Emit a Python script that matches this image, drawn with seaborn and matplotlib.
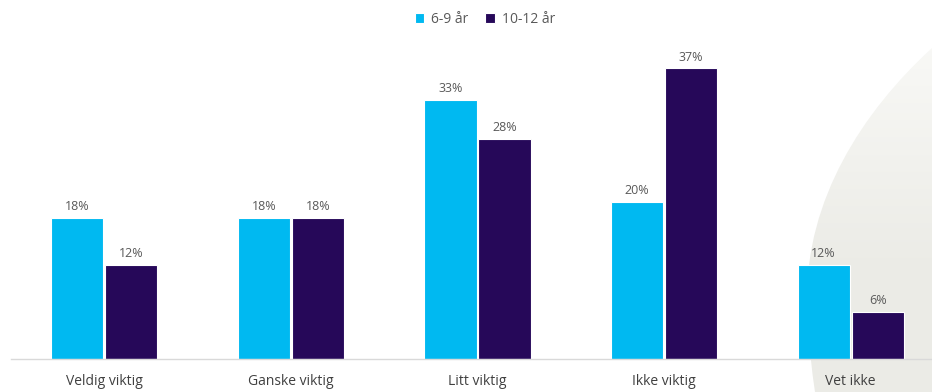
import matplotlib
matplotlib.use("Agg")
import matplotlib.pyplot as plt
from matplotlib.path import Path
from matplotlib.patches import PathPatch
import numpy as np
import seaborn as sns
import pandas as pd

categories = ["Veldig viktig", "Ganske viktig", "Litt viktig", "Ikke viktig", "Vet ikke"]
series_names = ["6-9 år", "10-12 år"]
values_6_9 = [18, 18, 33, 20, 12]
values_10_12 = [12, 18, 28, 37, 6]
colors = ["#00B9F1", "#260859"]

df = pd.DataFrame({
    "kategori": categories * 2,
    "alder": [series_names[0]] * len(categories) + [series_names[1]] * len(categories),
    "andel": values_6_9 + values_10_12,
})

sns.set_theme(style="white")
plt.rcParams["font.family"] = ["Open Sans", "DejaVu Sans"]

W, H = 932, 392
fig = plt.figure(figsize=(W / 100, H / 100), dpi=100)

# decorative background swoosh on the right, with a soft vertical gradient
bg = fig.add_axes([0, 0, 1, 1], zorder=0)
bg.set_xlim(0, W)
bg.set_ylim(H, 0)
bg.axis("off")
verts = [(932, 48), (862, 112), (806, 200), (807, 300),
         (808, 345), (812, 370), (815, 392),
         (932, 392), (932, 48)]
codes = [Path.MOVETO, Path.CURVE4, Path.CURVE4, Path.CURVE4,
         Path.CURVE4, Path.CURVE4, Path.CURVE4,
         Path.LINETO, Path.CLOSEPOLY]
swoosh = PathPatch(Path(verts, codes), facecolor="none", edgecolor="none")
bg.add_patch(swoosh)
grad = np.linspace(0, 1, 256)[:, None]
top_c = np.array([0.975, 0.975, 0.965])
bot_c = np.array([0.925, 0.925, 0.905])
img = top_c + (bot_c - top_c) * np.clip(grad * 1.6, 0, 1)[..., None]
img = np.repeat(img, 2, axis=1)
im = bg.imshow(img, extent=(790, 932, H, 40), aspect="auto", interpolation="bilinear")
im.set_clip_path(swoosh)

ax = fig.add_axes([11 / W, 1 - 359 / H, 933 / W, 329 / H], zorder=1)
ax.set_facecolor("none")

sns.barplot(data=df, x="kategori", y="andel", hue="alder", palette=colors,
            order=categories, hue_order=series_names, width=0.58, gap=0.035,
            saturation=1, edgecolor="white", linewidth=0.8, ax=ax, legend=True)

for cont in ax.containers:
    ax.bar_label(cont, labels=[f"{v:.0f}%" for v in cont.datavalues],
                 padding=3.5, fontsize=9, color="#595959")

ax.set_xlim(-0.5, 4.5)
ax.set_ylim(0, 41.9)
ax.set_xlabel("")
ax.set_ylabel("")
ax.set_yticks([])
for s in ["top", "right", "left"]:
    ax.spines[s].set_visible(False)
ax.spines["bottom"].set_color("#D9D9D9")
ax.spines["bottom"].set_linewidth(1.0)
ax.tick_params(axis="x", which="major", length=0, pad=11, labelsize=10, labelcolor="#404040")
ax.set_xticks([-0.5 + i for i in range(6)], minor=True)
ax.tick_params(axis="x", which="minor", length=5, width=1, color="#D9D9D9", direction="out")

leg = ax.legend(loc="upper center", bbox_to_anchor=(474 / 933, (359 - 6) / 329),
                ncol=2, frameon=False, fontsize=10, handlelength=0.7, handleheight=0.7,
                handletextpad=0.5, columnspacing=1.2, borderaxespad=0)
for t in leg.get_texts():
    t.set_color("#595959")

fig.savefig("out.png", dpi=100)
